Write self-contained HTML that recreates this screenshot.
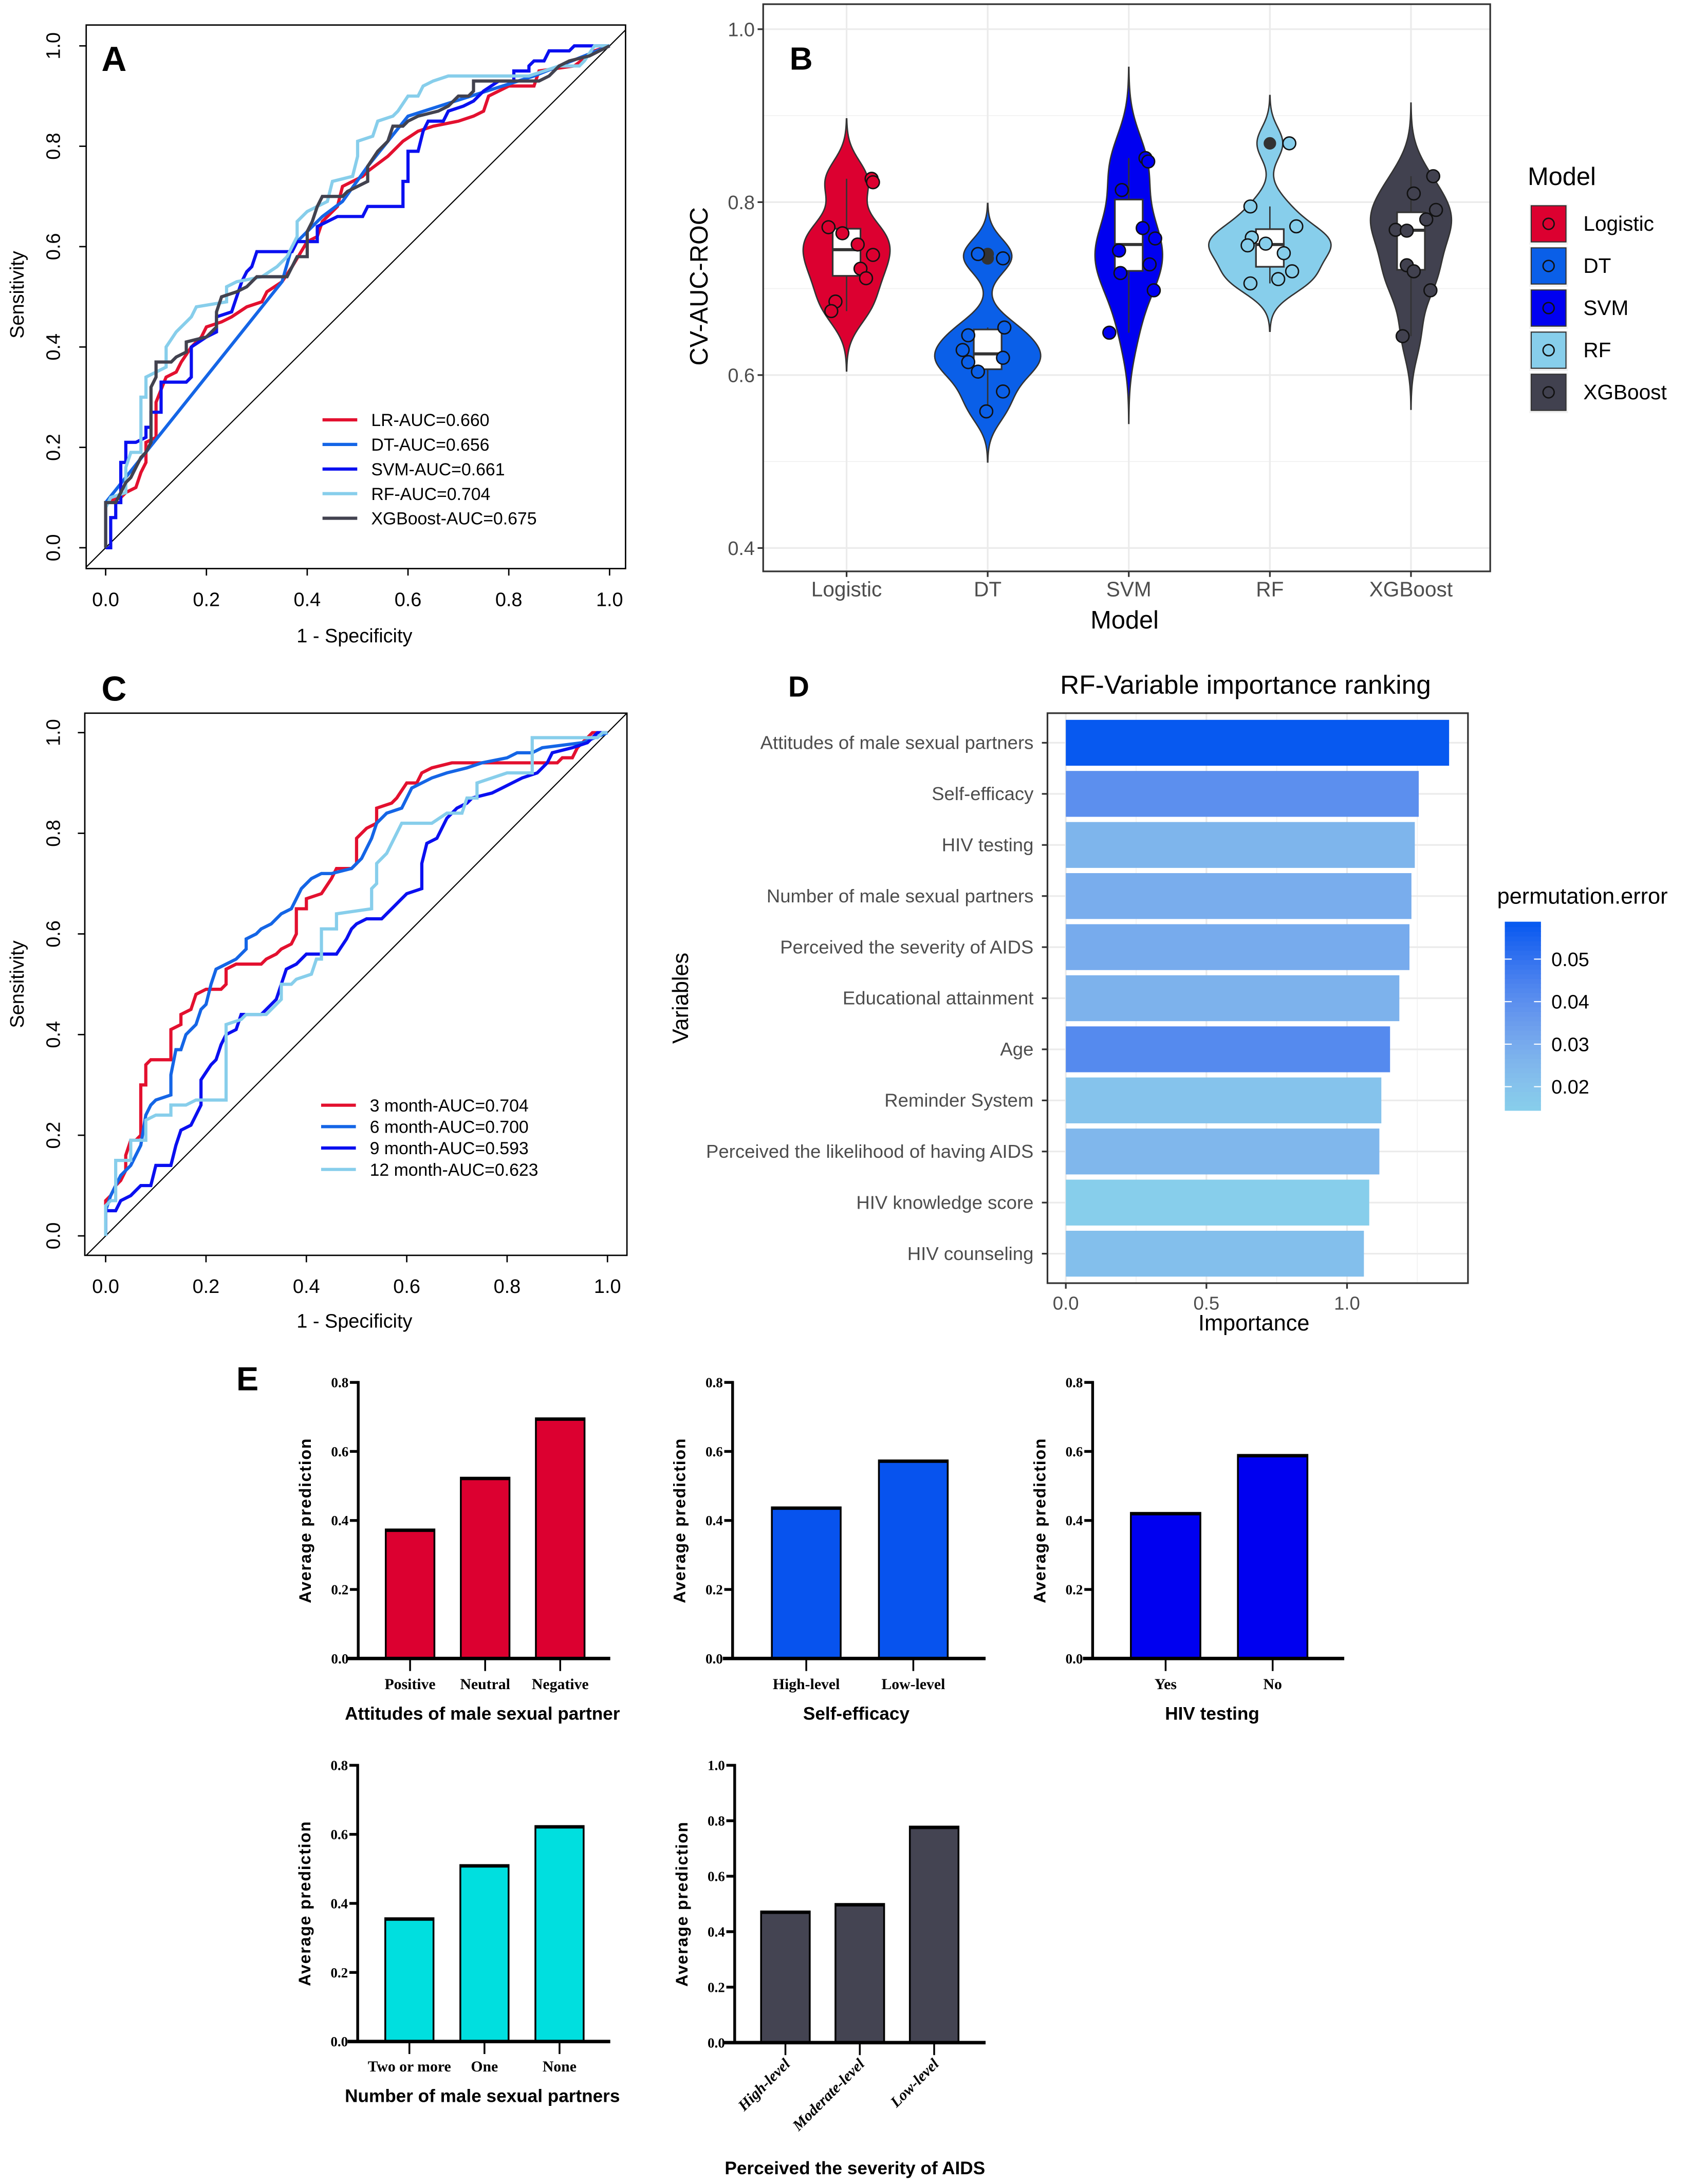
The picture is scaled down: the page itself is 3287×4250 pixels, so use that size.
<!DOCTYPE html>
<html><head><meta charset="utf-8">
<style>
html,body{margin:0;padding:0;background:#fff;}
svg{display:block;}
.s{font-family:"Liberation Sans",sans-serif;}
.n{font-family:"Liberation Sans Narrow","Liberation Sans",sans-serif;}
.t{font-family:"Liberation Serif",serif;font-weight:bold;}
</style></head>
<body>
<svg id="fig" xmlns="http://www.w3.org/2000/svg" width="3287" height="4250" viewBox="0 0 1215 1571" preserveAspectRatio="none">
<rect x="0" y="0" width="1215" height="1571" fill="#fff"/>
<defs>
<clipPath id="clipA"><rect x="62" y="18" width="388" height="391"/></clipPath>
<clipPath id="clipC"><rect x="61" y="513" width="390" height="390"/></clipPath>
</defs>
<g id="panelA">
<text x="73" y="51" class="s" font-size="25" font-weight="bold">A</text>
<text x="255" y="462" class="s" font-size="14" text-anchor="middle">1 - Specificity</text>
<text transform="translate(17,212) rotate(-90)" class="s" font-size="14" text-anchor="middle">Sensitivity</text>
</g>
<g id="panelC">
<text x="73" y="504" class="s" font-size="25" font-weight="bold">C</text>
<text x="255" y="955" class="s" font-size="14" text-anchor="middle">1 - Specificity</text>
<text transform="translate(17,708) rotate(-90)" class="s" font-size="14" text-anchor="middle">Sensitivity</text>
</g>
<g id="panelB">
<text x="568" y="50" class="s" font-size="23" font-weight="bold">B</text>
<text x="809" y="452" class="n" font-size="18" text-anchor="middle">Model</text>
<text transform="translate(509,206) rotate(-90)" class="n" font-size="18" text-anchor="middle">CV-AUC-ROC</text>
<text x="1099" y="133" class="n" font-size="18">Model</text>
</g>
<g id="panelD">
<text x="567" y="501" class="s" font-size="21" font-weight="bold">D</text>
<text x="896" y="499" class="n" font-size="19" text-anchor="middle">RF-Variable importance ranking</text>
<text x="902" y="957" class="n" font-size="16" text-anchor="middle">Importance</text>
<text transform="translate(495,718) rotate(-90)" class="n" font-size="16" text-anchor="middle">Variables</text>
<text x="1077" y="650" class="n" font-size="16">permutation.error</text>
</g>
<g id="panelE">
<text x="170" y="1000" class="s" font-size="24" font-weight="bold">E</text>
</g>
</svg>
<script>
const NS='http://www.w3.org/2000/svg';
function mk(tag, attrs, parent){const e=document.createElementNS(NS,tag);for(const k in attrs)e.setAttribute(k,attrs[k]);parent.appendChild(e);return e;}

/* ---------- Panel A data ---------- */
const aTicks=[0,0.2,0.4,0.6,0.8,1.0];
const aTickLabels=['0.0','0.2','0.4','0.6','0.8','1.0'];
const aSeriesNames=['LR-AUC=0.660','DT-AUC=0.656','SVM-AUC=0.661','RF-AUC=0.704','XGBoost-AUC=0.675'];
const aLR=[[0,0],[0,.09],[.03,.1],[.04,.11],[.06,.12],[.07,.15],[.08,.17],[.08,.21],[.1,.22],[.1,.29],[.12,.34],[.14,.35],[.15,.37],[.17,.4],[.19,.42],[.2,.44],[.23,.45],[.25,.46],[.28,.48],[.31,.49],[.32,.51],[.35,.53],[.37,.56],[.4,.61],[.42,.62],[.43,.65],[.46,.68],[.47,.72],[.51,.74],[.52,.75],[.56,.78],[.59,.81],[.62,.83],[.65,.84],[.7,.85],[.73,.86],[.75,.87],[.76,.9],[.8,.92],[.85,.92],[.86,.95],[.93,.96],[.97,.99],[1,1]];
const aDT=[[0,0],[0,.09],[.35,.53],[.37,.6],[.43,.66],[.47,.69],[.52,.76],[.6,.86],[.85,.94],[1,1]];
const aSVM=[[0,0],[.01,0],[.01,.06],[.02,.06],[.02,.09],[.03,.09],[.03,.17],[.04,.17],[.04,.21],[.06,.21],[.08,.22],[.08,.24],[.09,.24],[.09,.27],[.11,.27],[.11,.33],[.16,.33],[.17,.34],[.17,.4],[.2,.42],[.22,.43],[.22,.46],[.25,.47],[.26,.5],[.27,.53],[.28,.55],[.29,.56],[.3,.59],[.37,.59],[.38,.61],[.42,.61],[.42,.64],[.44,.65],[.46,.66],[.51,.66],[.52,.68],[.59,.68],[.59,.73],[.6,.73],[.6,.79],[.62,.79],[.63,.83],[.64,.85],[.67,.85],[.68,.87],[.71,.88],[.73,.89],[.75,.91],[.78,.93],[.81,.93],[.81,.95],[.84,.95],[.84,.96],[.85,.97],[.87,.97],[.88,.99],[.92,.99],[.93,1],[1,1]];
const aRF=[[0,0],[0,.08],[.01,.1],[.04,.11],[.04,.16],[.05,.19],[.07,.19],[.07,.3],[.08,.3],[.08,.34],[.1,.35],[.12,.36],[.12,.4],[.14,.43],[.15,.44],[.17,.46],[.18,.48],[.24,.49],[.24,.52],[.26,.53],[.31,.54],[.34,.56],[.36,.58],[.38,.62],[.38,.65],[.4,.67],[.44,.69],[.45,.73],[.49,.74],[.5,.78],[.5,.81],[.53,.82],[.54,.85],[.57,.86],[.58,.87],[.6,.9],[.62,.9],[.63,.92],[.65,.93],[.68,.94],[.84,.94],[.87,.95],[.9,.96],[.94,.96],[.95,.97],[.97,1],[1,1]];
const aXGB=[[0,0],[0,.09],[.02,.09],[.03,.11],[.04,.13],[.05,.14],[.06,.16],[.07,.18],[.08,.19],[.09,.21],[.09,.32],[.1,.34],[.1,.37],[.13,.37],[.14,.38],[.16,.39],[.16,.41],[.2,.42],[.21,.43],[.22,.44],[.22,.47],[.23,.5],[.26,.51],[.28,.52],[.3,.54],[.36,.54],[.37,.56],[.38,.58],[.4,.58],[.4,.63],[.41,.65],[.42,.68],[.43,.7],[.47,.7],[.48,.71],[.52,.73],[.52,.76],[.54,.79],[.56,.81],[.57,.84],[.59,.84],[.6,.85],[.62,.86],[.66,.87],[.68,.88],[.7,.9],[.72,.9],[.73,.91],[.73,.93],[.86,.93],[.88,.94],[.9,.96],[.92,.97],[.96,.98],[1,1]];

/* ---------- Panel C data ---------- */
const cSeriesNames=['3 month-AUC=0.704','6 month-AUC=0.700','9 month-AUC=0.593','12 month-AUC=0.623'];
const c3m=[[0,0],[0,.07],[.01,.08],[.02,.1],[.03,.11],[.04,.13],[.04,.16],[.05,.19],[.06,.19],[.07,.2],[.07,.3],[.08,.3],[.08,.34],[.09,.35],[.13,.35],[.13,.41],[.15,.42],[.15,.44],[.17,.45],[.18,.48],[.2,.49],[.23,.49],[.24,.5],[.24,.53],[.26,.54],[.31,.54],[.32,.55],[.34,.56],[.35,.57],[.37,.58],[.38,.6],[.38,.65],[.4,.65],[.4,.67],[.43,.68],[.45,.71],[.46,.73],[.49,.73],[.5,.74],[.5,.79],[.52,.81],[.54,.82],[.54,.85],[.57,.86],[.58,.87],[.6,.9],[.62,.9],[.63,.92],[.65,.93],[.69,.94],[.9,.94],[.91,.95],[.93,.95],[.94,.97],[.96,.99],[.97,1],[1,1]];
const c6m=[[0,0],[0,.05],[.01,.08],[.02,.1],[.03,.12],[.05,.14],[.06,.16],[.07,.18],[.08,.24],[.09,.26],[.1,.27],[.13,.28],[.13,.32],[.14,.37],[.15,.37],[.16,.4],[.18,.42],[.19,.45],[.2,.46],[.21,.5],[.22,.53],[.24,.54],[.26,.55],[.28,.57],[.28,.59],[.3,.6],[.31,.61],[.33,.62],[.35,.64],[.37,.65],[.38,.67],[.39,.69],[.41,.71],[.43,.72],[.45,.72],[.49,.73],[.51,.75],[.53,.79],[.54,.82],[.56,.84],[.59,.85],[.61,.89],[.63,.9],[.65,.91],[.68,.92],[.72,.93],[.75,.94],[.8,.95],[.82,.96],[.85,.96],[.87,.97],[.95,.98],[1,1]];
const c9m=[[0,0],[0,.05],[.02,.05],[.03,.07],[.05,.08],[.06,.09],[.07,.1],[.09,.1],[.1,.14],[.13,.14],[.14,.18],[.15,.21],[.17,.22],[.18,.24],[.19,.26],[.19,.31],[.21,.34],[.22,.35],[.23,.38],[.24,.4],[.26,.41],[.27,.44],[.31,.44],[.33,.46],[.34,.47],[.35,.5],[.36,.53],[.38,.54],[.4,.56],[.46,.56],[.48,.59],[.49,.61],[.5,.62],[.52,.63],[.55,.63],[.56,.64],[.57,.65],[.59,.67],[.6,.68],[.63,.69],[.63,.74],[.64,.78],[.66,.79],[.67,.81],[.68,.83],[.7,.85],[.72,.86],[.73,.87],[.77,.88],[.79,.89],[.81,.9],[.83,.91],[.86,.92],[.88,.94],[.89,.96],[.93,.97],[.96,.98],[.98,1],[1,1]];
const c12m=[[0,0],[0,.06],[.01,.07],[.02,.07],[.02,.15],[.05,.15],[.05,.19],[.08,.19],[.08,.23],[.1,.24],[.13,.24],[.13,.26],[.16,.26],[.18,.27],[.24,.27],[.24,.42],[.27,.43],[.28,.44],[.32,.44],[.34,.46],[.35,.47],[.35,.5],[.37,.5],[.38,.51],[.41,.52],[.42,.55],[.43,.55],[.43,.61],[.46,.61],[.46,.64],[.53,.65],[.53,.69],[.54,.7],[.54,.74],[.56,.76],[.57,.78],[.58,.8],[.59,.82],[.65,.82],[.68,.84],[.71,.84],[.72,.87],[.74,.87],[.74,.9],[.8,.92],[.85,.92],[.85,.99],[.98,.99],[.99,1],[1,1]];

/* ---------- Panel B data ---------- */
const bModels=['Logistic','DT','SVM','RF','XGBoost'];
const bLogistic=[.827,.823,.771,.764,.751,.739,.723,.712,.685,.674];
const bDT=[.74,.735,.655,.646,.629,.62,.615,.604,.581,.558];
const bSVM=[.851,.847,.814,.770,.758,.744,.728,.718,.698,.649];
const bRF=[.868,.795,.772,.759,.752,.741,.72,.711,.706,.75];
const bXGB=[.830,.810,.791,.780,.768,.767,.727,.720,.698,.645];
const bTicks=[0.4,0.6,0.8,1.0];
const bTickLabels=['0.4','0.6','0.8','1.0'];

/* ---------- Panel D data ---------- */
const dVars=['Attitudes of male sexual partners','Self-efficacy','HIV testing','Number of male sexual partners','Perceived the severity of AIDS','Educational attainment','Age','Reminder System','Perceived the likelihood of having AIDS','HIV knowledge score','HIV counseling'];
const dImportance=[1.363,1.255,1.241,1.229,1.222,1.186,1.153,1.122,1.115,1.079,1.060];
const dPermError=[.0585,.040,.026,.029,.030,.027,.042,.020,.025,.0145,.022];
const dTicks=[0,0.5,1.0];
const dTickLabels=['0.0','0.5','1.0'];
const dLegendTicks=[0.02,0.03,0.04,0.05];

/* ---------- Panel E data ---------- */
const e1Cats=['Positive','Neutral','Negative'];
const e1Vals=[0.374,0.524,0.696];
const e2Cats=['High-level','Low-level'];
const e2Vals=[0.438,0.574];
const e3Cats=['Yes','No'];
const e3Vals=[0.422,0.590];
const e4Cats=['Two or more','One','None'];
const e4Vals=[0.357,0.511,0.624];
const e5Cats=['High-level','Moderate-level','Low-level'];
const e5Vals=[0.473,0.500,0.779];
const eTicks08=[0,0.2,0.4,0.6,0.8];
const eTicks10=[0,0.2,0.4,0.6,0.8,1.0];

const svg=document.getElementById('fig');

/* ====== ROC drawing ====== */
function drawROC(g,box,sx,sy,series,colors,names,legend,clip,prefix){
  const r=mk('rect',{x:box.x,y:box.y,width:box.w,height:box.h,fill:'none',stroke:'#000','stroke-width':1},g);
  
  
  aTicks.forEach((t,i)=>{
    const tx=mk('line',{x1:sx(t),x2:sx(t),y1:box.y+box.h,y2:box.y+box.h+5,stroke:'#000','stroke-width':1},g);
    
    
    const lx=mk('text',{x:sx(t),y:box.y+box.h+27,'font-size':14,'text-anchor':'middle',class:'s'},g);
    lx.textContent=aTickLabels[i];
    
    
    const ty=mk('line',{x1:box.x,x2:box.x-5,y1:sy(t),y2:sy(t),stroke:'#000','stroke-width':1},g);
    
    
    const ly=mk('text',{transform:'translate(43,'+sy(t)+') rotate(-90)','font-size':14,'text-anchor':'middle',class:'s'},g);
    ly.textContent=aTickLabels[i];
    
    
  });
  const d=mk('line',{x1:sx(-0.1),y1:sy(-0.1),x2:sx(1.1),y2:sy(1.1),stroke:'#000','stroke-width':0.8,'clip-path':'url(#'+clip+')'},g);
  
  
  series.forEach((pts,k)=>{
    const p=mk('path',{d:pts.map((q,i)=>(i?'L':'M')+sx(q[0]).toFixed(2)+','+sy(q[1]).toFixed(2)).join(''),fill:'none',stroke:colors[k],'stroke-width':2.3,'stroke-linejoin':'miter'},g);
    
    
  });
  names.forEach((nm,k)=>{
    const y=legend.y0+k*legend.dy;
    const l=mk('line',{x1:legend.x1,x2:legend.x2,y1:y,y2:y,stroke:colors[k],'stroke-width':2.3},g);
    
    
    const t=mk('text',{x:legend.tx,y:y+4.5,'font-size':12.5,class:'s'},g);
    t.textContent=nm;
    
    
  });
}
const gA=document.getElementById('panelA');
drawROC(gA,{x:62,y:18,w:388,h:391},v=>76+v*362.5,v=>394-v*361,[aLR,aDT,aSVM,aRF,aXGB],['#e3102f','#1465e6','#0a0ff0','#87ceeb','#42424f'],aSeriesNames,{x1:232,x2:257,tx:267,y0:302,dy:17.7},'clipA','panel-a');
const gC=document.getElementById('panelC');
drawROC(gC,{x:61,y:513,w:390,h:390},v=>76+v*361,v=>889-v*362,[c3m,c6m,c9m,c12m],['#e3102f','#1465e6','#0a0ff0','#87ceeb'],cSeriesNames,{x1:231,x2:256,tx:266,y0:795,dy:15.4},'clipC','panel-c');

/* ====== Panel B violins ====== */
const gB=document.getElementById('panelB');
const bColors=['#dc0030','#0a5fe8','#0000f0','#87ceeb','#41414f'];
const bJitter=[[18,19,-13,-3,8,19,10,14,-8,-11],[-7,11,12,-14,-18,11,-14,-7,11,-1],[12,14,-5,10,19,-7,15,-6,18,-14],[14,-14,19,-13,-3,10,16,6,-14,-16],[16,2,18,11,-11,-3,-3,2,14,-6]];
const bX=i=>609+i*101.5;
const bY=v=>21+(1-v)*622;
const PL=549,PR=1072,PT=3,PB=411;
[0.5,0.7,0.9].forEach(v=>{const l=mk('line',{x1:PL,x2:PR,y1:bY(v),y2:bY(v),stroke:'#f0f0f0','stroke-width':0.6},gB);});
bTicks.forEach(v=>{const l=mk('line',{x1:PL,x2:PR,y1:bY(v),y2:bY(v),stroke:'#ebebeb','stroke-width':1.2},gB);});
bModels.forEach((m,i)=>{const l=mk('line',{x1:bX(i),x2:bX(i),y1:PT,y2:PB,stroke:'#ebebeb','stroke-width':1.2},gB);});
function quant(s,p){const h=(s.length-1)*p,lo=Math.floor(h);return s[lo]+(h-lo)*((s[lo+1]===undefined?s[lo]:s[lo+1])-s[lo]);}
const bData=[bLogistic,bDT,bSVM,bRF,bXGB];
const kdes=bData.map(vals=>{
  const n=vals.length,mean=vals.reduce((a,b)=>a+b,0)/n;
  const sd=Math.sqrt(vals.reduce((a,b)=>a+(b-mean)*(b-mean),0)/(n-1));
  const s=[...vals].sort((a,b)=>a-b);
  const iqr=quant(s,.75)-quant(s,.25);
  const bw=0.9*Math.min(sd,iqr/1.34)*Math.pow(n,-0.2);
  const lo=s[0]-3*bw,hi=s[n-1]+3*bw,pts=[];
  for(let k=0;k<=120;k++){const y=lo+(hi-lo)*k/120;let d=0;vals.forEach(v=>{d+=Math.exp(-0.5*((y-v)/bw)**2);});pts.push([y,d/(n*bw*Math.sqrt(2*Math.PI))]);}
  return pts;
});
const maxD=Math.max(...kdes.map(p=>Math.max(...p.map(q=>q[1]))));
const halfMax=44;
bData.forEach((vals,i)=>{
  const cx=bX(i),pts=kdes[i];
  let d='';pts.forEach((q,k)=>{d+=(k?'L':'M')+(cx+q[1]/maxD*halfMax).toFixed(2)+','+bY(q[0]).toFixed(2);});
  for(let k=pts.length-1;k>=0;k--){d+='L'+(cx-pts[k][1]/maxD*halfMax).toFixed(2)+','+bY(pts[k][0]).toFixed(2);}
  d+='Z';
  const v=mk('path',{d:d,fill:bColors[i],stroke:'#333','stroke-width':1},gB);
  
  
  const s=[...vals].sort((a,b)=>a-b);
  const q1=quant(s,.25),q2=quant(s,.5),q3=quant(s,.75),iqr=q3-q1;
  const inr=s.filter(x=>x>=q1-1.5*iqr&&x<=q3+1.5*iqr);
  const wl=mk('line',{x1:cx,x2:cx,y1:bY(inr[inr.length-1]),y2:bY(inr[0]),stroke:'#333','stroke-width':1},gB);
  
  
  const bx=mk('rect',{x:cx-10,y:bY(q3),width:20,height:bY(q1)-bY(q3),fill:'#fff',stroke:'#333','stroke-width':1.2},gB);
  
  
  const md=mk('line',{x1:cx-10,x2:cx+10,y1:bY(q2),y2:bY(q2),stroke:'#333','stroke-width':2.2},gB);
  
  
  s.filter(x=>x<q1-1.5*iqr||x>q3+1.5*iqr).forEach(o=>{
    const oc=mk('circle',{cx:cx,cy:bY(o),r:4.5,fill:'#333'},gB);
    
    
  });
  vals.forEach((val,k)=>{
    const c=mk('circle',{cx:cx+bJitter[i][k],cy:bY(val),r:4.6,fill:bColors[i],stroke:'#111','stroke-width':1},gB);
    
    
  });
  const tk=mk('line',{x1:cx,x2:cx,y1:PB,y2:PB+4,stroke:'#333','stroke-width':1.2},gB);
  
  
  const tl=mk('text',{x:cx,y:PB+18,'font-size':15,'text-anchor':'middle',fill:'#4d4d4d',class:'n'},gB);
  tl.textContent=bModels[i];
  
  
  const ly=148+i*30.3;
  const key=mk('rect',{x:1100,y:ly-1,width:28,height:29,fill:'#f2f2f2'},gB);
  
  
  const ks=mk('rect',{x:1101.5,y:ly,width:25,height:26,fill:bColors[i],stroke:'#333','stroke-width':0.8},gB);
  
  
  const kc=mk('circle',{cx:1114,cy:ly+13,r:4,fill:'none',stroke:'#111','stroke-width':1},gB);
  
  
  const kt=mk('text',{x:1139,y:ly+18,'font-size':15,class:'n'},gB);
  kt.textContent=bModels[i];
  
  
});
const bFrame=mk('rect',{x:PL,y:PT,width:PR-PL,height:PB-PT,fill:'none',stroke:'#333','stroke-width':1.2},gB);


bTicks.forEach((v,i)=>{
  const t=mk('line',{x1:PL-4,x2:PL,y1:bY(v),y2:bY(v),stroke:'#333','stroke-width':1.2},gB);
  
  
  const l=mk('text',{x:PL-6,y:bY(v)+5,'font-size':14,'text-anchor':'end',fill:'#4d4d4d',class:'n'},gB);
  l.textContent=bTickLabels[i];
  
  
});

/* ====== Panel D ====== */
const gD=document.getElementById('panelD');
const DL=753.5,DR=1056,DT_=513,DB=923;
const dX=v=>766.7+v*202.3;
const dY=i=>534.3+i*36.75;
const lowC=[135,206,235],highC=[5,88,240],eMin=0.0145,eMax=0.0588;
const chanPow=[2.0,1.15,1.0];
function dColor(e){const t=Math.max(0,Math.min(1,(e-eMin)/(eMax-eMin)));return 'rgb('+lowC.map((c,k)=>Math.round(c+(highC[k]-c)*Math.pow(t,chanPow[k]))).join(',')+')';}
[0.25,0.75,1.25].forEach(v=>{const l=mk('line',{x1:dX(v),x2:dX(v),y1:DT_,y2:DB,stroke:'#f2f2f2','stroke-width':0.6},gD);});
dTicks.forEach(v=>{const l=mk('line',{x1:dX(v),x2:dX(v),y1:DT_,y2:DB,stroke:'#ebebeb','stroke-width':1.2},gD);});
dVars.forEach((nm,i)=>{
  const gl=mk('line',{x1:DL,x2:DR,y1:dY(i),y2:dY(i),stroke:'#ebebeb','stroke-width':1.2},gD);
  
  
  const b=mk('rect',{x:dX(0),y:dY(i)-16.5,width:dX(dImportance[i])-dX(0),height:33,fill:dColor(dPermError[i])},gD);
  
  
  const tk=mk('line',{x1:DL-4,x2:DL,y1:dY(i),y2:dY(i),stroke:'#333','stroke-width':1.2},gD);
  
  
  const t=mk('text',{x:DL-10,y:dY(i)+4.5,'font-size':13.5,'text-anchor':'end',fill:'#4d4d4d',class:'n'},gD);
  t.textContent=nm;
  
  
});
const dFrame=mk('rect',{x:DL,y:DT_,width:DR-DL,height:DB-DT_,fill:'none',stroke:'#333','stroke-width':1.2},gD);


dTicks.forEach((v,i)=>{
  const t=mk('line',{x1:dX(v),x2:dX(v),y1:DB,y2:DB+4,stroke:'#333','stroke-width':1.2},gD);
  
  
  const l=mk('text',{x:dX(v),y:DB+19,'font-size':13.5,'text-anchor':'middle',fill:'#4d4d4d',class:'n'},gD);
  l.textContent=dTickLabels[i];
  
  
});
const cbX=1082.5,cbW=26,cbTop=663,cbBot=798.5;
const cbY=e=>cbBot-(e-eMin)/(eMax-eMin)*(cbBot-cbTop);
for(let k=0;k<40;k++){
  const e0=eMin+(eMax-eMin)*k/40,e1=eMin+(eMax-eMin)*(k+1)/40;
  const r=mk('rect',{x:cbX,y:cbY(e1),width:cbW,height:cbY(e0)-cbY(e1)+0.5,fill:dColor((e0+e1)/2)},gD);
  
  
}
dLegendTicks.forEach(e=>{
  const l1=mk('line',{x1:cbX,x2:cbX+5,y1:cbY(e),y2:cbY(e),stroke:'#fff','stroke-width':0.8},gD);
  
  
  const l2=mk('line',{x1:cbX+cbW-5,x2:cbX+cbW,y1:cbY(e),y2:cbY(e),stroke:'#fff','stroke-width':0.8},gD);
  
  
  const t=mk('text',{x:1116,y:cbY(e)+5,'font-size':14,class:'n'},gD);
  t.textContent=e.toFixed(2);
  
  
});

/* ====== Panel E bar charts ====== */
const gE=document.getElementById('panelE');
function drawBars(cfg){
  const g=mk('g',{},gE);
  
  
  const yS=v=>cfg.y0-v/cfg.ymax*(cfg.y0-cfg.yTop);
  cfg.cats.forEach((c,i)=>{
    const cx=cfg.c0+i*cfg.step;
    const b=mk('rect',{x:cx-cfg.bw/2,y:yS(cfg.vals[i]),width:cfg.bw,height:cfg.y0-yS(cfg.vals[i]),fill:cfg.color,stroke:'#000','stroke-width':1.3},g);
    
    
    const top=mk('line',{x1:cx-cfg.bw/2,x2:cx+cfg.bw/2,y1:yS(cfg.vals[i])+0.8,y2:yS(cfg.vals[i])+0.8,stroke:'#000','stroke-width':2},g);
    
    
    const tk=mk('line',{x1:cx,x2:cx,y1:cfg.y0,y2:cfg.y0+9,stroke:'#000','stroke-width':1.3},g);
    
    
    let t;
    if(cfg.rot){
      t=mk('text',{transform:'translate('+(cx+4)+','+(cfg.y0+16)+') rotate(-45)','font-size':11,'text-anchor':'end','font-style':'italic',class:'t'},g);
    }else{
      t=mk('text',{x:cx,y:cfg.labY,'font-size':11,'text-anchor':'middle',class:'t'},g);
    }
    t.textContent=c;
    
    
  });
  const ax=mk('line',{x1:cfg.ax,x2:cfg.ax,y1:cfg.yTop-1,y2:cfg.y0+1,stroke:'#000','stroke-width':2},g);
  
  
  const xa=mk('line',{x1:cfg.x0,x2:cfg.x1,y1:cfg.y0,y2:cfg.y0,stroke:'#000','stroke-width':2.5},g);
  
  
  cfg.ticks.forEach(v=>{
    const t=mk('line',{x1:cfg.ax-6,x2:cfg.ax,y1:yS(v),y2:yS(v),stroke:'#000','stroke-width':2},g);
    
    
    const l=mk('text',{x:cfg.ax-7,y:yS(v)+3.5,'font-size':10,'text-anchor':'end',class:'t'},g);
    l.textContent=v.toFixed(1);
    
    
  });
  const yt=mk('text',{transform:'translate('+(cfg.ax-34)+','+((cfg.y0+cfg.yTop)/2)+') rotate(-90)','font-size':12,'font-weight':'bold','letter-spacing':0.6,'text-anchor':'middle',class:'s'},g);
  yt.textContent='Average prediction';
  
  
  const tt=mk('text',{x:cfg.tx,y:cfg.ty,'font-size':13,'font-weight':'bold','text-anchor':'middle',class:'s'},g);
  tt.textContent=cfg.title;
  
  
}
drawBars({name:'e-attitudes-chart',cats:e1Cats,vals:e1Vals,color:'#dc0030',ax:257.7,x0:250,x1:439,y0:1193,yTop:994.4,ymax:0.8,ticks:eTicks08,c0:295,step:54,bw:35,labY:1215,title:'Attitudes of male sexual partner',tx:347,ty:1237});
drawBars({name:'e-self-efficacy-chart',cats:e2Cats,vals:e2Vals,color:'#0753ee',ax:527,x0:520,x1:709,y0:1193,yTop:994.4,ymax:0.8,ticks:eTicks08,c0:580,step:77,bw:49.5,labY:1215,title:'Self-efficacy',tx:616,ty:1237});
drawBars({name:'e-hiv-testing-chart',cats:e3Cats,vals:e3Vals,color:'#0000f0',ax:786,x0:779,x1:967,y0:1193,yTop:994.4,ymax:0.8,ticks:eTicks08,c0:838.5,step:77,bw:50,labY:1215,title:'HIV testing',tx:872,ty:1237});
drawBars({name:'e-partners-chart',cats:e4Cats,vals:e4Vals,color:'#00dfdf',ax:257.3,x0:250,x1:439,y0:1468.5,yTop:1269.8,ymax:0.8,ticks:eTicks08,c0:294.5,step:54,bw:34.7,labY:1490,title:'Number of male sexual partners',tx:347,ty:1512});
drawBars({name:'e-severity-chart',cats:e5Cats,vals:e5Vals,color:'#444452',ax:528.5,x0:521,x1:709,y0:1469.3,yTop:1269.8,ymax:1.0,ticks:eTicks10,c0:565,step:53.5,bw:35,rot:true,title:'Perceived the  severity of AIDS',tx:615,ty:1564});
</script>
</body></html>
